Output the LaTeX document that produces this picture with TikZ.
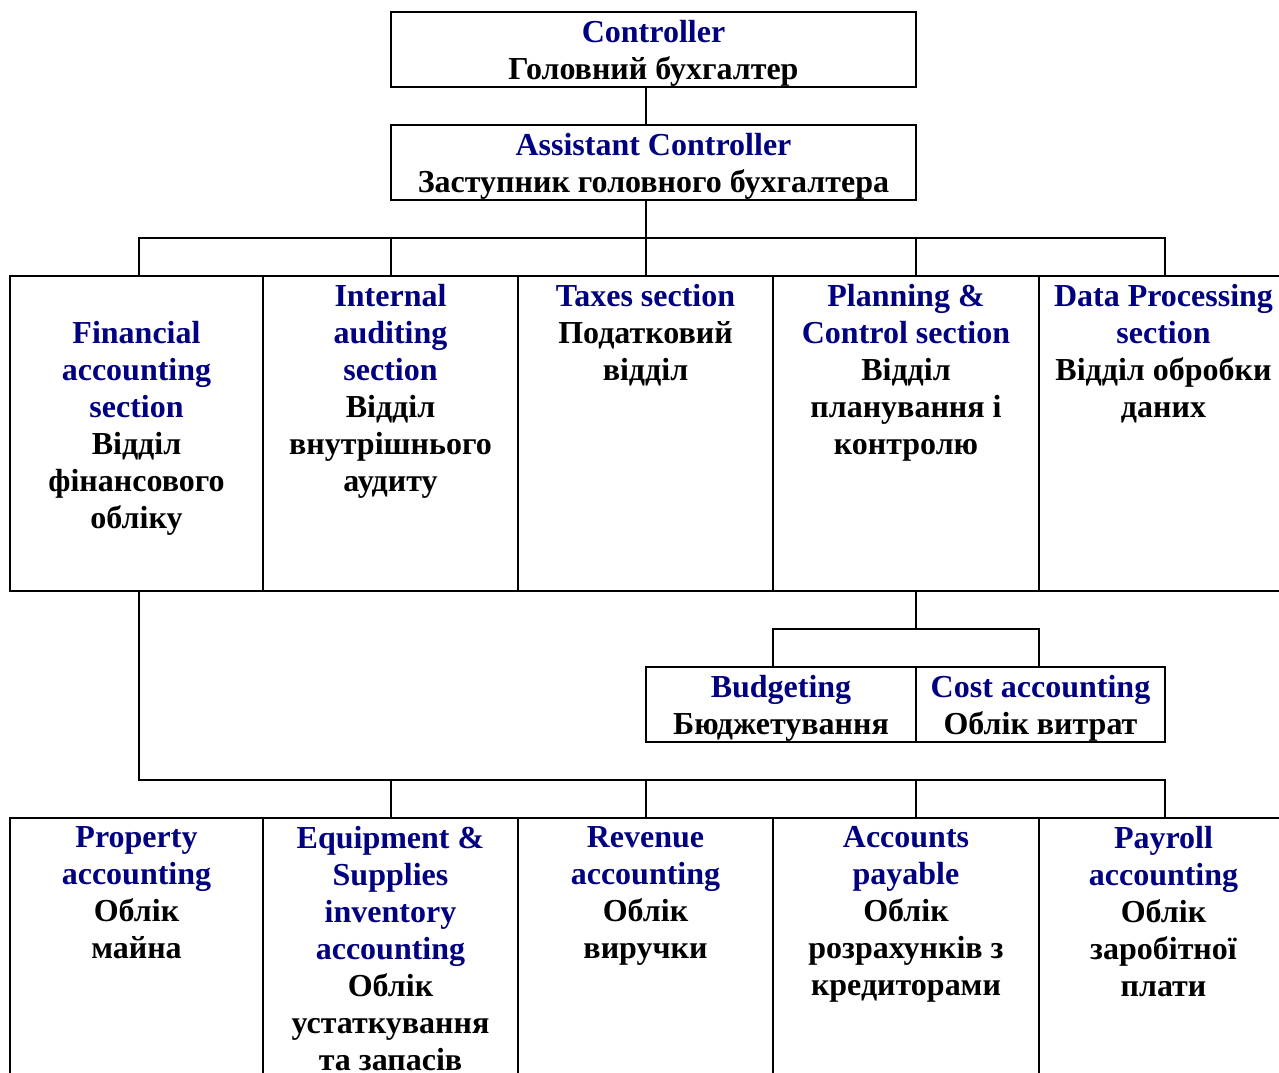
\documentclass[tikz,border=0pt]{standalone}
\usepackage{fontspec}
\setmainfont{Liberation Serif}
\definecolor{engblue}{RGB}{0,0,128}
\newcommand{\eng}[1]{{\color{engblue}#1}}

\begin{document}
\begin{tikzpicture}[x=0.75pt,y=-0.75pt]
	\tikzstyle{box}=[draw=black, line width=1.6pt, inner sep=0pt, outer sep=0pt, anchor=north west]
	\tikzstyle{lbl}=[anchor=north, align=center, inner sep=0pt, font=\fontsize{24}{27.75}\selectfont\bfseries]
	\tikzstyle{wire}=[line width=1.6pt]
	
	\useasboundingbox (0,0) rectangle (1279,1072);
	\clip (0,0) rectangle (1279,1072);
	
	% head boxes
	\node[box, minimum width=393.75pt, minimum height=56.25pt] (ctrl) at (391,12) {};
	\node[box, minimum width=393.75pt, minimum height=56.25pt] (asst) at (391,125) {};
	
	% sections
	\node[box, minimum width=189.75pt, minimum height=236.25pt] (fin) at (10,276) {};
	\node[box, minimum width=191.25pt, minimum height=236.25pt] (aud) at (263,276) {};
	\node[box, minimum width=191.25pt, minimum height=236.25pt] (tax) at (518,276) {};
	\node[box, minimum width=199.5pt, minimum height=236.25pt] (plan) at (773,276) {};
	\node[box, minimum width=186.75pt, minimum height=236.25pt] (data) at (1039,276) {};
	
	% planning subsections
	\node[box, minimum width=202.5pt, minimum height=56.25pt] (bud) at (646,667) {};
	\node[box, minimum width=186.75pt, minimum height=56.25pt] (cost) at (916,667) {};
	
	% financial subsections
	\node[box, minimum width=189.75pt, minimum height=211.5pt] (prop) at (10,818) {};
	\node[box, minimum width=191.25pt, minimum height=211.5pt] (equip) at (263,818) {};
	\node[box, minimum width=191.25pt, minimum height=211.5pt] (rev) at (518,818) {};
	\node[box, minimum width=199.5pt, minimum height=211.5pt] (pay) at (773,818) {};
	\node[box, minimum width=186.75pt, minimum height=211.5pt] (wage) at (1039,818) {};
	
	% texts
	\node[lbl] (ctrlT) at ([yshift=-6pt]ctrl.north) {\eng{Controller}\\Головний бухгалтер};
	\node[lbl] (asstT) at ([yshift=-6pt]asst.north) {\eng{Assistant Controller}\\Заступник головного бухгалтера};
	
	\node[lbl] (finT) at ([yshift=-33.75pt]fin.north) {\eng{Financial}\\\eng{accounting}\\\eng{section}\\Відділ\\фінансового\\обліку};
	\node[lbl] (audT) at ([yshift=-6pt]aud.north) {\eng{Internal}\\\eng{auditing}\\\eng{section}\\Відділ\\внутрішнього\\аудиту};
	\node[lbl] (taxT) at ([yshift=-6pt]tax.north) {\eng{Taxes section}\\Податковий\\відділ};
	\node[lbl] (planT) at ([yshift=-6pt]plan.north) {\eng{Planning \&}\\\eng{Control section}\\Відділ\\планування і\\контролю};
	\node[lbl] (dataT) at ([yshift=-6pt]data.north) {\eng{Data Processing}\\\eng{section}\\Відділ обробки\\даних};
	
	\node[lbl] (budT) at ([yshift=-6pt]bud.north) {\eng{Budgeting}\\Бюджетування};
	\node[lbl] (costT) at ([yshift=-6pt]cost.north) {\eng{Cost accounting}\\Облік витрат};
	
	\node[lbl] (propT) at ([yshift=-6pt]prop.north) {\eng{Property}\\\eng{accounting}\\Облік\\майна};
	\node[lbl] (equipT) at ([yshift=-6pt]equip.north) {\eng{Equipment \&}\\\eng{Supplies}\\\eng{inventory}\\\eng{accounting}\\Облік\\устаткування\\та запасів};
	\node[lbl] (revT) at ([yshift=-6pt]rev.north) {\eng{Revenue}\\\eng{accounting}\\Облік\\виручки};
	\node[lbl] (payT) at ([yshift=-6pt]pay.north) {\eng{Accounts}\\\eng{payable}\\Облік\\розрахунків з\\кредиторами};
	\node[lbl] (wageT) at ([yshift=-6pt]wage.north) {\eng{Payroll}\\\eng{accounting}\\Облік\\заробітної\\плати};
	
	% junctions
	\coordinate (topA) at (139,238);
	\coordinate (topB) at (391,238);
	\coordinate (topC) at (646,238);
	\coordinate (topD) at (916,238);
	\coordinate (topE) at (1165,238);
	\coordinate (subL) at (773,629);
	\coordinate (subM) at (916,629);
	\coordinate (subR) at (1039,629);
	\coordinate (lowA) at (139,780);
	\coordinate (lowB) at (391,780);
	\coordinate (lowC) at (646,780);
	\coordinate (lowD) at (916,780);
	\coordinate (lowE) at (1165,780);
	
	% connectors
	\draw[wire] (ctrl.south -| topC) -- (asst.north -| topC);
	\draw[wire] (asst.south -| topC) -- (topC);
	\draw[wire] (topA |- fin.north) -- (topA) -- (topE) -- (topE |- data.north);
	\foreach \c in {topB,topC,topD}
		\draw[wire] (\c) -- (\c |- fin.north);
	
	\draw[wire] (plan.south -| subM) -- (subM);
	\draw[wire] (subL |- bud.north) -- (subL) -- (subR) -- (subR |- cost.north);
	
	\draw[wire] (fin.south -| lowA) -- (lowA) -- (lowE) -- (lowE |- wage.north);
	\foreach \c in {lowB,lowC,lowD}
		\draw[wire] (\c) -- (\c |- prop.north);
	
\end{tikzpicture}
\end{document}
